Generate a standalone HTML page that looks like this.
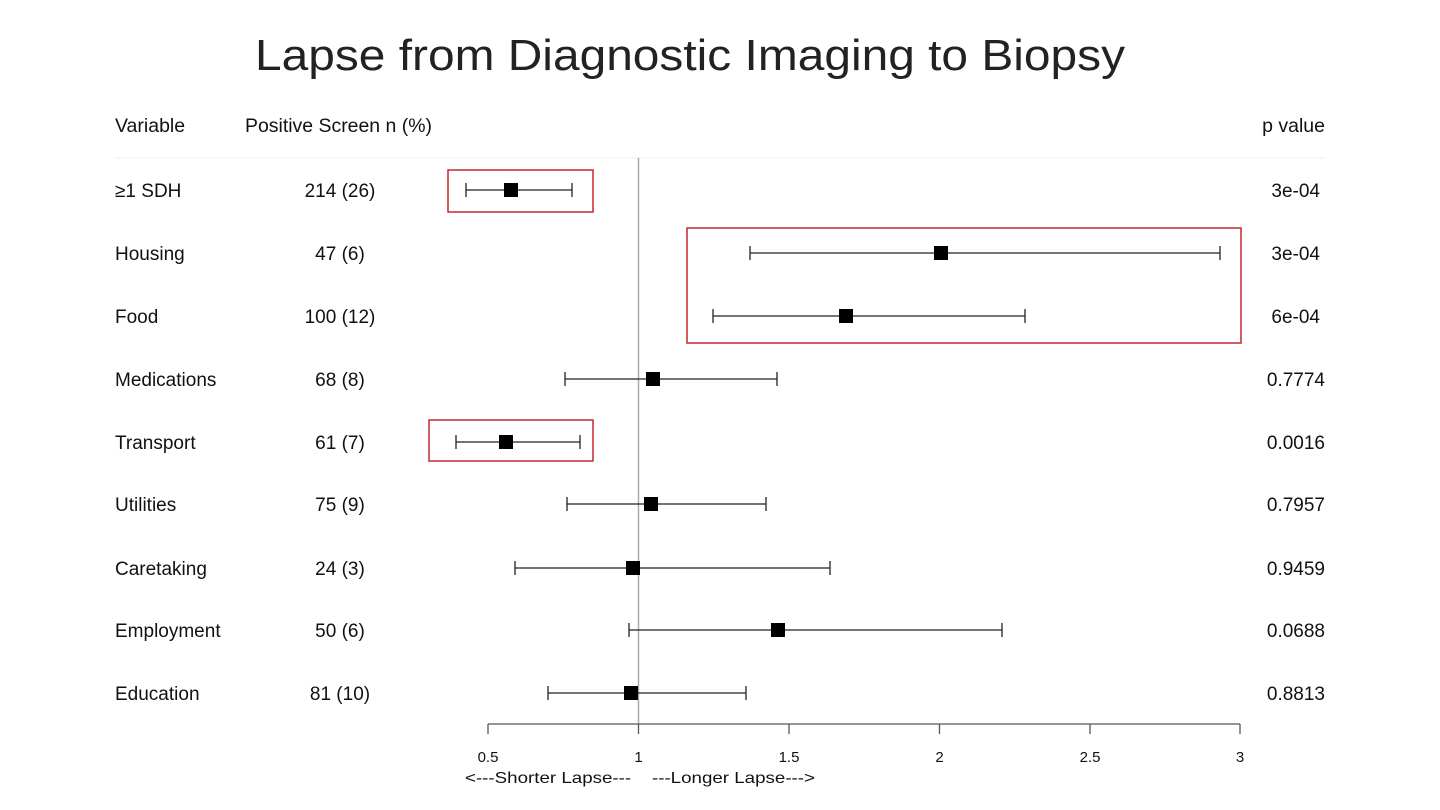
<!DOCTYPE html>
<html><head><style>body{margin:0;background:#fff}svg{display:block}</style></head><body>
<svg width="1440" height="810" xmlns="http://www.w3.org/2000/svg" font-family="Liberation Sans, Arial, sans-serif">
<text x="255" y="70" font-size="44" fill="#222" textLength="870" lengthAdjust="spacingAndGlyphs">Lapse from Diagnostic Imaging to Biopsy</text>
<g font-size="19.5" fill="#111">
<text x="115" y="132">Variable</text>
<text x="245" y="132" textLength="187" lengthAdjust="spacingAndGlyphs">Positive Screen n (%)</text>
<text x="1325" y="132" text-anchor="end">p value</text>
</g>
<line x1="115" y1="158" x2="1325" y2="158" stroke="#f0f0f0" stroke-width="1"/>
<line x1="638.5" y1="158" x2="638.5" y2="724" stroke="#aaa" stroke-width="1.5"/>
<g font-size="19" fill="#111">
<text x="115" y="197">≥1 SDH</text><text x="340" y="197" text-anchor="middle">214 (26)</text><text x="1320" y="197" text-anchor="end">3e-04</text>
<text x="115" y="260">Housing</text><text x="340" y="260" text-anchor="middle">47 (6)</text><text x="1320" y="260" text-anchor="end">3e-04</text>
<text x="115" y="323">Food</text><text x="340" y="323" text-anchor="middle">100 (12)</text><text x="1320" y="323" text-anchor="end">6e-04</text>
<text x="115" y="386">Medications</text><text x="340" y="386" text-anchor="middle">68 (8)</text><text x="1325" y="386" text-anchor="end">0.7774</text>
<text x="115" y="449">Transport</text><text x="340" y="449" text-anchor="middle">61 (7)</text><text x="1325" y="449" text-anchor="end">0.0016</text>
<text x="115" y="511">Utilities</text><text x="340" y="511" text-anchor="middle">75 (9)</text><text x="1325" y="511" text-anchor="end">0.7957</text>
<text x="115" y="575">Caretaking</text><text x="340" y="575" text-anchor="middle">24 (3)</text><text x="1325" y="575" text-anchor="end">0.9459</text>
<text x="115" y="637">Employment</text><text x="340" y="637" text-anchor="middle">50 (6)</text><text x="1325" y="637" text-anchor="end">0.0688</text>
<text x="115" y="700">Education</text><text x="340" y="700" text-anchor="middle">81 (10)</text><text x="1325" y="700" text-anchor="end">0.8813</text>
</g>
<g stroke="#222" stroke-width="1.3">
<path d="M466 190H572M466 183V197M572 183V197"/>
<path d="M750 253H1220M750 246V260M1220 246V260"/>
<path d="M713 316H1025M713 309V323M1025 309V323"/>
<path d="M565 379H777M565 372V386M777 372V386"/>
<path d="M456 442H580M456 435V449M580 435V449"/>
<path d="M567 504H766M567 497V511M766 497V511"/>
<path d="M515 568H830M515 561V575M830 561V575"/>
<path d="M629 630H1002M629 623V637M1002 623V637"/>
<path d="M548 693H746M548 686V700M746 686V700"/>
</g>
<g fill="#000">
<rect x="504" y="183" width="14" height="14"/>
<rect x="934" y="246" width="14" height="14"/>
<rect x="839" y="309" width="14" height="14"/>
<rect x="646" y="372" width="14" height="14"/>
<rect x="499" y="435" width="14" height="14"/>
<rect x="644" y="497" width="14" height="14"/>
<rect x="626" y="561" width="14" height="14"/>
<rect x="771" y="623" width="14" height="14"/>
<rect x="624" y="686" width="14" height="14"/>
</g>
<g fill="none" stroke="#c0282d" stroke-width="1.5">
<rect x="448" y="170" width="145" height="42"/>
<rect x="687" y="228" width="554" height="115"/>
<rect x="429" y="420" width="164" height="41"/>
</g>
<path d="M488 724H1240M488 724V734M638.5 724V734M789 724V734M939.5 724V734M1090 724V734M1240 724V734" stroke="#555" stroke-width="1.3" fill="none"/>
<g font-size="15" fill="#111" text-anchor="middle">
<text x="488" y="762">0.5</text><text x="638.5" y="762">1</text><text x="789" y="762">1.5</text><text x="939.5" y="762">2</text><text x="1090" y="762">2.5</text><text x="1240" y="762">3</text>
</g>
<text x="465" y="783" font-size="16" fill="#111" textLength="350" lengthAdjust="spacingAndGlyphs">&lt;---Shorter Lapse---&#160;&#160;&#160;&#160;---Longer Lapse---&gt;</text>
</svg>
</body></html>
